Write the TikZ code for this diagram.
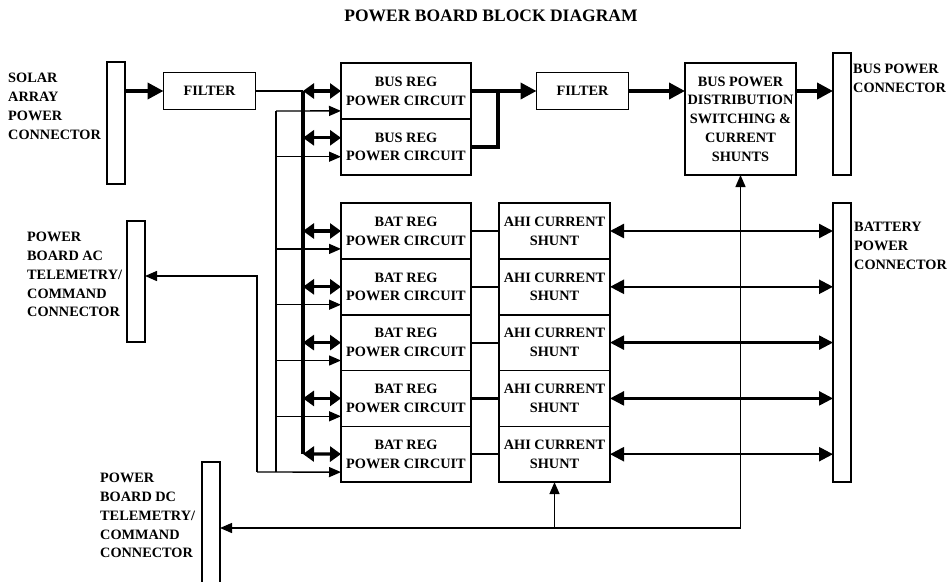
\documentclass[tikz,border=0pt]{standalone}
\usepackage{fontspec}
\setmainfont{Liberation Serif}
\usetikzlibrary{arrows.meta, positioning}

\begin{document}
\begin{tikzpicture}[
    x=1pt, y=-1pt,
    box/.style={
        rectangle,
        draw,
        line width=1.6pt,
        outer sep=0pt,
        inner sep=0pt,
        align=center,
        minimum width=130pt,
        minimum height=55.8pt,
        font=\fontsize{14.3}{18.8}\selectfont\bfseries
    },
    shunt/.style={box, minimum width=111pt},
    filt/.style={box, minimum width=92pt, minimum height=37pt},
    conn/.style={rectangle, draw, line width=1.6pt, outer sep=0pt, minimum width=18pt},
    lbl/.style={anchor=north west, align=left, inner sep=0pt,
        font=\fontsize{14.3}{18.8}\selectfont\bfseries},
    heading/.style={anchor=north, inner sep=0pt, font=\fontsize{17.5}{20}\selectfont\bfseries},
    wire/.style={line width=1.4pt},
    link/.style={line width=2.2pt},
    busline/.style={line width=3.8pt},
    feedarr/.style={wire, -{Triangle[length=12pt, width=10pt]}},
    busarr/.style={busline, -{Triangle[length=16pt, width=16pt]}},
    dblarr/.style={line width=3.2pt, {Triangle[length=11pt, width=15pt]}-{Triangle[length=11pt, width=15pt]}},
    battarr/.style={line width=2.4pt, {Triangle[length=14pt, width=14pt]}-{Triangle[length=14pt, width=14pt]}}
]
\useasboundingbox (0,0) rectangle (950,581);

\node[heading] (title) at (491,10) {POWER BOARD BLOCK DIAGRAM};

% connectors
\node[conn, minimum height=122pt] (solar) at (116,123) {};
\node[lbl] (solarlbl) at (8,73) {SOLAR\\ARRAY\\POWER\\CONNECTOR};
\node[conn, minimum height=121pt] (acconn) at (136,281.5) {};
\node[lbl] (aclbl) at (27,232) {POWER\\BOARD AC\\TELEMETRY/\\COMMAND\\CONNECTOR};
\node[conn, minimum height=124pt] (dcconn) at (211,524) {};
\node[lbl] (dclbl) at (100,473) {POWER\\BOARD DC\\TELEMETRY/\\COMMAND\\CONNECTOR};
\node[conn, minimum height=122pt] (busconn) at (842,114) {};
\node[lbl] (buslbl) at (853,64) {BUS POWER\\CONNECTOR};
\node[conn, minimum height=279pt] (batconn) at (842,342.5) {};
\node[lbl] (batlbl) at (854,222) {BATTERY\\POWER\\CONNECTOR};

% blocks
\node[filt] (filter1) at (209.5,91) {FILTER};
\node[box] (busreg1) at (406,91) {BUS REG\\POWER CIRCUIT};
\node[box, below=0pt of busreg1] (busreg2) {BUS REG\\POWER CIRCUIT};
\node[filt] (filter2) at (582.5,91) {FILTER};
\node[box, minimum width=111pt, minimum height=112pt] (dist) at (740.5,119)
    {BUS POWER\\DISTRIBUTION\\SWITCHING \&\\CURRENT\\SHUNTS};

\node[box] (batreg1) at (406,231) {BAT REG\\POWER CIRCUIT};
\node[box, below=0pt of batreg1] (batreg2) {BAT REG\\POWER CIRCUIT};
\node[box, below=0pt of batreg2] (batreg3) {BAT REG\\POWER CIRCUIT};
\node[box, below=0pt of batreg3] (batreg4) {BAT REG\\POWER CIRCUIT};
\node[box, below=0pt of batreg4] (batreg5) {BAT REG\\POWER CIRCUIT};

\node[shunt, right=28pt of batreg1] (shunt1) {AHI CURRENT\\SHUNT};
\node[shunt, right=28pt of batreg2] (shunt2) {AHI CURRENT\\SHUNT};
\node[shunt, right=28pt of batreg3] (shunt3) {AHI CURRENT\\SHUNT};
\node[shunt, right=28pt of batreg4] (shunt4) {AHI CURRENT\\SHUNT};
\node[shunt, right=28pt of batreg5] (shunt5) {AHI CURRENT\\SHUNT};

% junctions
\coordinate (bustop) at (303,91);
\coordinate (busbot) at (303,454);
\coordinate (feedtop) at (276,111);
\coordinate (feedbot) at (276,472);
\coordinate (tlmbot) at (257,472);
\coordinate (tlmtop) at (257,276);
\coordinate (join) at (498,91);
\coordinate (dcjoin) at (740.5,528);

% solar array power path
\draw[busarr] (solar.east |- filter1) -- (filter1);
\draw[wire] (filter1) -- (bustop);
\draw[busline] (bustop) -- (busbot);

\draw[dblarr] (bustop) -- (busreg1);
\draw[dblarr] ([yshift=9pt]busreg2.west -| bustop) -- ([yshift=9pt]busreg2.west);
\draw[dblarr] (batreg1.west -| bustop) -- (batreg1);
\draw[dblarr] (batreg2.west -| bustop) -- (batreg2);
\draw[dblarr] (batreg3.west -| bustop) -- (batreg3);
\draw[dblarr] (batreg4.west -| bustop) -- (batreg4);
\draw[dblarr] (busbot) -- (batreg5);

% telemetry feed
\draw[wire] (feedtop) -- (feedbot);
\draw[feedarr] (feedtop) -- ([yshift=8pt]busreg1.south west);
\draw[feedarr] ([yshift=18pt]busreg2.south west -| feedtop) -- ([yshift=18pt]busreg2.south west);
\draw[feedarr] ([yshift=10pt]batreg1.south west -| feedtop) -- ([yshift=10pt]batreg1.south west);
\draw[feedarr] ([yshift=10pt]batreg2.south west -| feedtop) -- ([yshift=10pt]batreg2.south west);
\draw[feedarr] ([yshift=10pt]batreg3.south west -| feedtop) -- ([yshift=10pt]batreg3.south west);
\draw[feedarr] ([yshift=10pt]batreg4.south west -| feedtop) -- ([yshift=10pt]batreg4.south west);
\draw[feedarr] (tlmbot) -- ([yshift=10pt]batreg5.south west);
\draw[feedarr] (tlmbot) -- (tlmtop) -- (acconn.east |- tlmtop);

% bus output
\draw[busline] (busreg2) -| (join);
\draw[busarr] (busreg1) -- (filter2);
\draw[busarr] (filter2) -- (filter2 -| dist.west);
\draw[busarr] (dist.east |- filter2) -- (busconn.west |- filter2);

% battery path
\draw[link] (batreg1) -- (shunt1);
\draw[link] (batreg2) -- (shunt2);
\draw[link] (batreg3) -- (shunt3);
\draw[link] (batreg4) -- (shunt4);
\draw[link] (batreg5) -- (shunt5);
\draw[battarr] (shunt1) -- (shunt1 -| batconn.west);
\draw[battarr] (shunt2) -- (shunt2 -| batconn.west);
\draw[battarr] (shunt3) -- (shunt3 -| batconn.west);
\draw[battarr] (shunt4) -- (shunt4 -| batconn.west);
\draw[battarr] (shunt5) -- (shunt5 -| batconn.west);

% dc telemetry
\draw[feedarr] (dcjoin) -- (dist);
\draw[feedarr] (dcjoin) -- (dcjoin -| dcconn.east);
\draw[feedarr] (shunt5.south |- dcjoin) -- (shunt5.south);

\end{tikzpicture}
\end{document}
